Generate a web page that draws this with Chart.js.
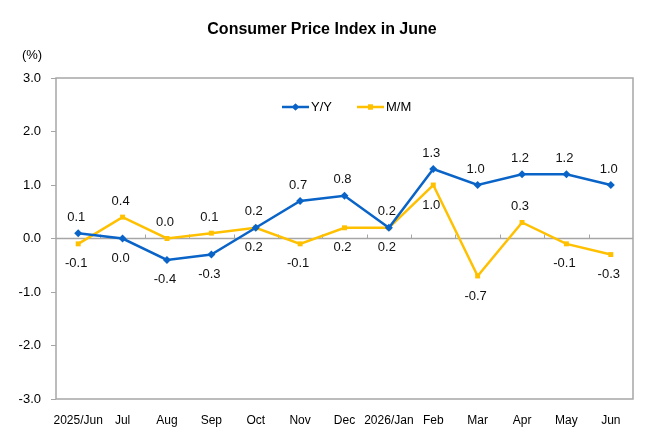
<!DOCTYPE html>
<html lang="en">
<head>
    <meta charset="UTF-8">
    <title>Consumer Price Index in June</title>
    <script src="https://cdn.jsdelivr.net/npm/chart.js"></script>
    <style>
        html, body {
            margin: 0;
            padding: 0;
            background: #fff;
        }

        .chart-box {
            width: 660px;
            height: 440px;
            position: relative;
        }
    </style>
</head>
<body>
    <div class="chart-box">
        <canvas id="cpiChart"></canvas>
    </div>

    <script>
        const months = ['2025/Jun', 'Jul', 'Aug', 'Sep', 'Oct', 'Nov', 'Dec',
                        '2026/Jan', 'Feb', 'Mar', 'Apr', 'May', 'Jun'];
        const yoy = [0.1, 0.0, -0.4, -0.3, 0.2, 0.7, 0.8, 0.2, 1.3, 1.0, 1.2, 1.2, 1.0];
        const mom = [-0.1, 0.4, 0.0, 0.1, 0.2, -0.1, 0.2, 0.2, 1.0, -0.7, 0.3, -0.1, -0.3];
        // where each value label sits: 't' above the point, 'b' below
        const yoyLabelSide = ['t', 'b', 'b', 'b', 't', 't', 't', 't', 't', 't', 't', 't', 't'];
        const momLabelSide = ['b', 't', 't', 't', 'b', 'b', 'b', 'b', 'b', 'b', 't', 'b', 'b'];
        const yTicks = [-3, -2, -1, 0, 1, 2, 3];

        const FONT = '"Liberation Sans", Arial, sans-serif';
        const BLUE = '#0A64C8';
        const YELLOW = '#FFC000';
        const GREY = '#A6A6A6';

        // frame, zero line, title, unit, legend and value labels
        const decorPlugin = {
            id: 'decor',
            beforeDatasetsDraw(chart) {
                const ctx = chart.ctx;
                const area = chart.chartArea;
                const x = chart.scales.x;
                const y = chart.scales.y;
                const zeroY = y.getPixelForValue(0);

                ctx.save();
                ctx.strokeStyle = GREY;
                ctx.lineWidth = 1.5;
                ctx.beginPath();
                ctx.moveTo(area.left, zeroY);
                ctx.lineTo(area.right, zeroY);
                ctx.stroke();

                // small ticks between categories on the zero line
                ctx.lineWidth = 1;
                for (let i = 1; i < months.length; i++) {
                    const bx = Math.round((x.getPixelForValue(i - 1) + x.getPixelForValue(i)) / 2) + 0.5;
                    ctx.beginPath();
                    ctx.moveTo(bx, zeroY - 4);
                    ctx.lineTo(bx, zeroY);
                    ctx.stroke();
                }

                ctx.lineWidth = 1.5;
                ctx.strokeRect(area.left, area.top, area.right - area.left, area.bottom - area.top);
                ctx.restore();
            },
            afterDatasetsDraw(chart) {
                const ctx = chart.ctx;
                ctx.save();

                ctx.fillStyle = '#000';
                ctx.textAlign = 'center';
                ctx.textBaseline = 'middle';
                ctx.font = 'bold 16px ' + FONT;
                ctx.fillText('Consumer Price Index in June', 322, 30);

                ctx.font = '13px ' + FONT;
                ctx.fillText('(%)', 32, 55);

                // legend inside the plot
                const legend = [
                    { label: 'Y/Y', color: BLUE, style: 'rectRot', x: 282 },
                    { label: 'M/M', color: YELLOW, style: 'rect', x: 357 }
                ];
                legend.forEach(item => {
                    const ly = 107;
                    ctx.strokeStyle = item.color;
                    ctx.lineWidth = 2.5;
                    ctx.beginPath();
                    ctx.moveTo(item.x, ly);
                    ctx.lineTo(item.x + 27, ly);
                    ctx.stroke();
                    ctx.fillStyle = item.color;
                    Chart.helpers.drawPoint(ctx, { pointStyle: item.style, radius: 3.5, borderWidth: 0 }, item.x + 13.5, ly);
                    ctx.fill();
                    ctx.fillStyle = '#000';
                    ctx.textAlign = 'left';
                    ctx.fillText(item.label, item.x + 29, ly);
                });

                // value labels
                ctx.textAlign = 'center';
                ctx.fillStyle = '#111';
                const sides = [yoyLabelSide, momLabelSide];
                chart.data.datasets.forEach((ds, di) => {
                    const meta = chart.getDatasetMeta(di);
                    meta.data.forEach((pt, i) => {
                        const dy = sides[di][i] === 't' ? -16 : 20;
                        ctx.fillText(ds.data[i].toFixed(1), pt.x - 2, pt.y + dy);
                    });
                });

                ctx.restore();
            }
        };

        const ctx = document.getElementById('cpiChart').getContext('2d');
        new Chart(ctx, {
            type: 'line',
            data: {
                labels: months,
                datasets: [{
                    label: 'Y/Y',
                    data: yoy,
                    borderColor: BLUE,
                    backgroundColor: BLUE,
                    borderWidth: 2.5,
                    pointStyle: 'rectRot',
                    pointRadius: 4,
                    pointBorderWidth: 0,
                    tension: 0
                }, {
                    label: 'M/M',
                    data: mom,
                    borderColor: YELLOW,
                    backgroundColor: YELLOW,
                    borderWidth: 2.5,
                    pointStyle: 'rect',
                    pointRadius: 3.5,
                    pointBorderWidth: 0,
                    tension: 0
                }]
            },
            options: {
                responsive: true,
                maintainAspectRatio: false,
                animation: false,
                events: [],
                layout: {
                    padding: { top: 78, right: 27, bottom: 11, left: 0 }
                },
                plugins: {
                    legend: { display: false },
                    title: { display: false },
                    tooltip: { enabled: false }
                },
                scales: {
                    x: {
                        offset: true,
                        grid: { display: false },
                        border: { display: false },
                        ticks: {
                            color: '#000',
                            font: { family: FONT, size: 12 },
                            padding: 6,
                            maxRotation: 0,
                            autoSkip: false
                        },
                        afterFit(scale) { scale.height = 30; }
                    },
                    y: {
                        min: -3,
                        max: 3,
                        afterBuildTicks(scale) {
                            scale.ticks = yTicks.map(v => ({ value: v }));
                        },
                        grid: {
                            drawOnChartArea: false,
                            drawTicks: true,
                            tickLength: 5,
                            color: GREY
                        },
                        border: { display: false },
                        ticks: {
                            color: '#000',
                            font: { family: FONT, size: 13 },
                            padding: 10,
                            callback: v => v.toFixed(1)
                        },
                        afterFit(scale) { scale.width = 56; }
                    }
                }
            },
            plugins: [decorPlugin]
        });
    </script>
</body>
</html>
